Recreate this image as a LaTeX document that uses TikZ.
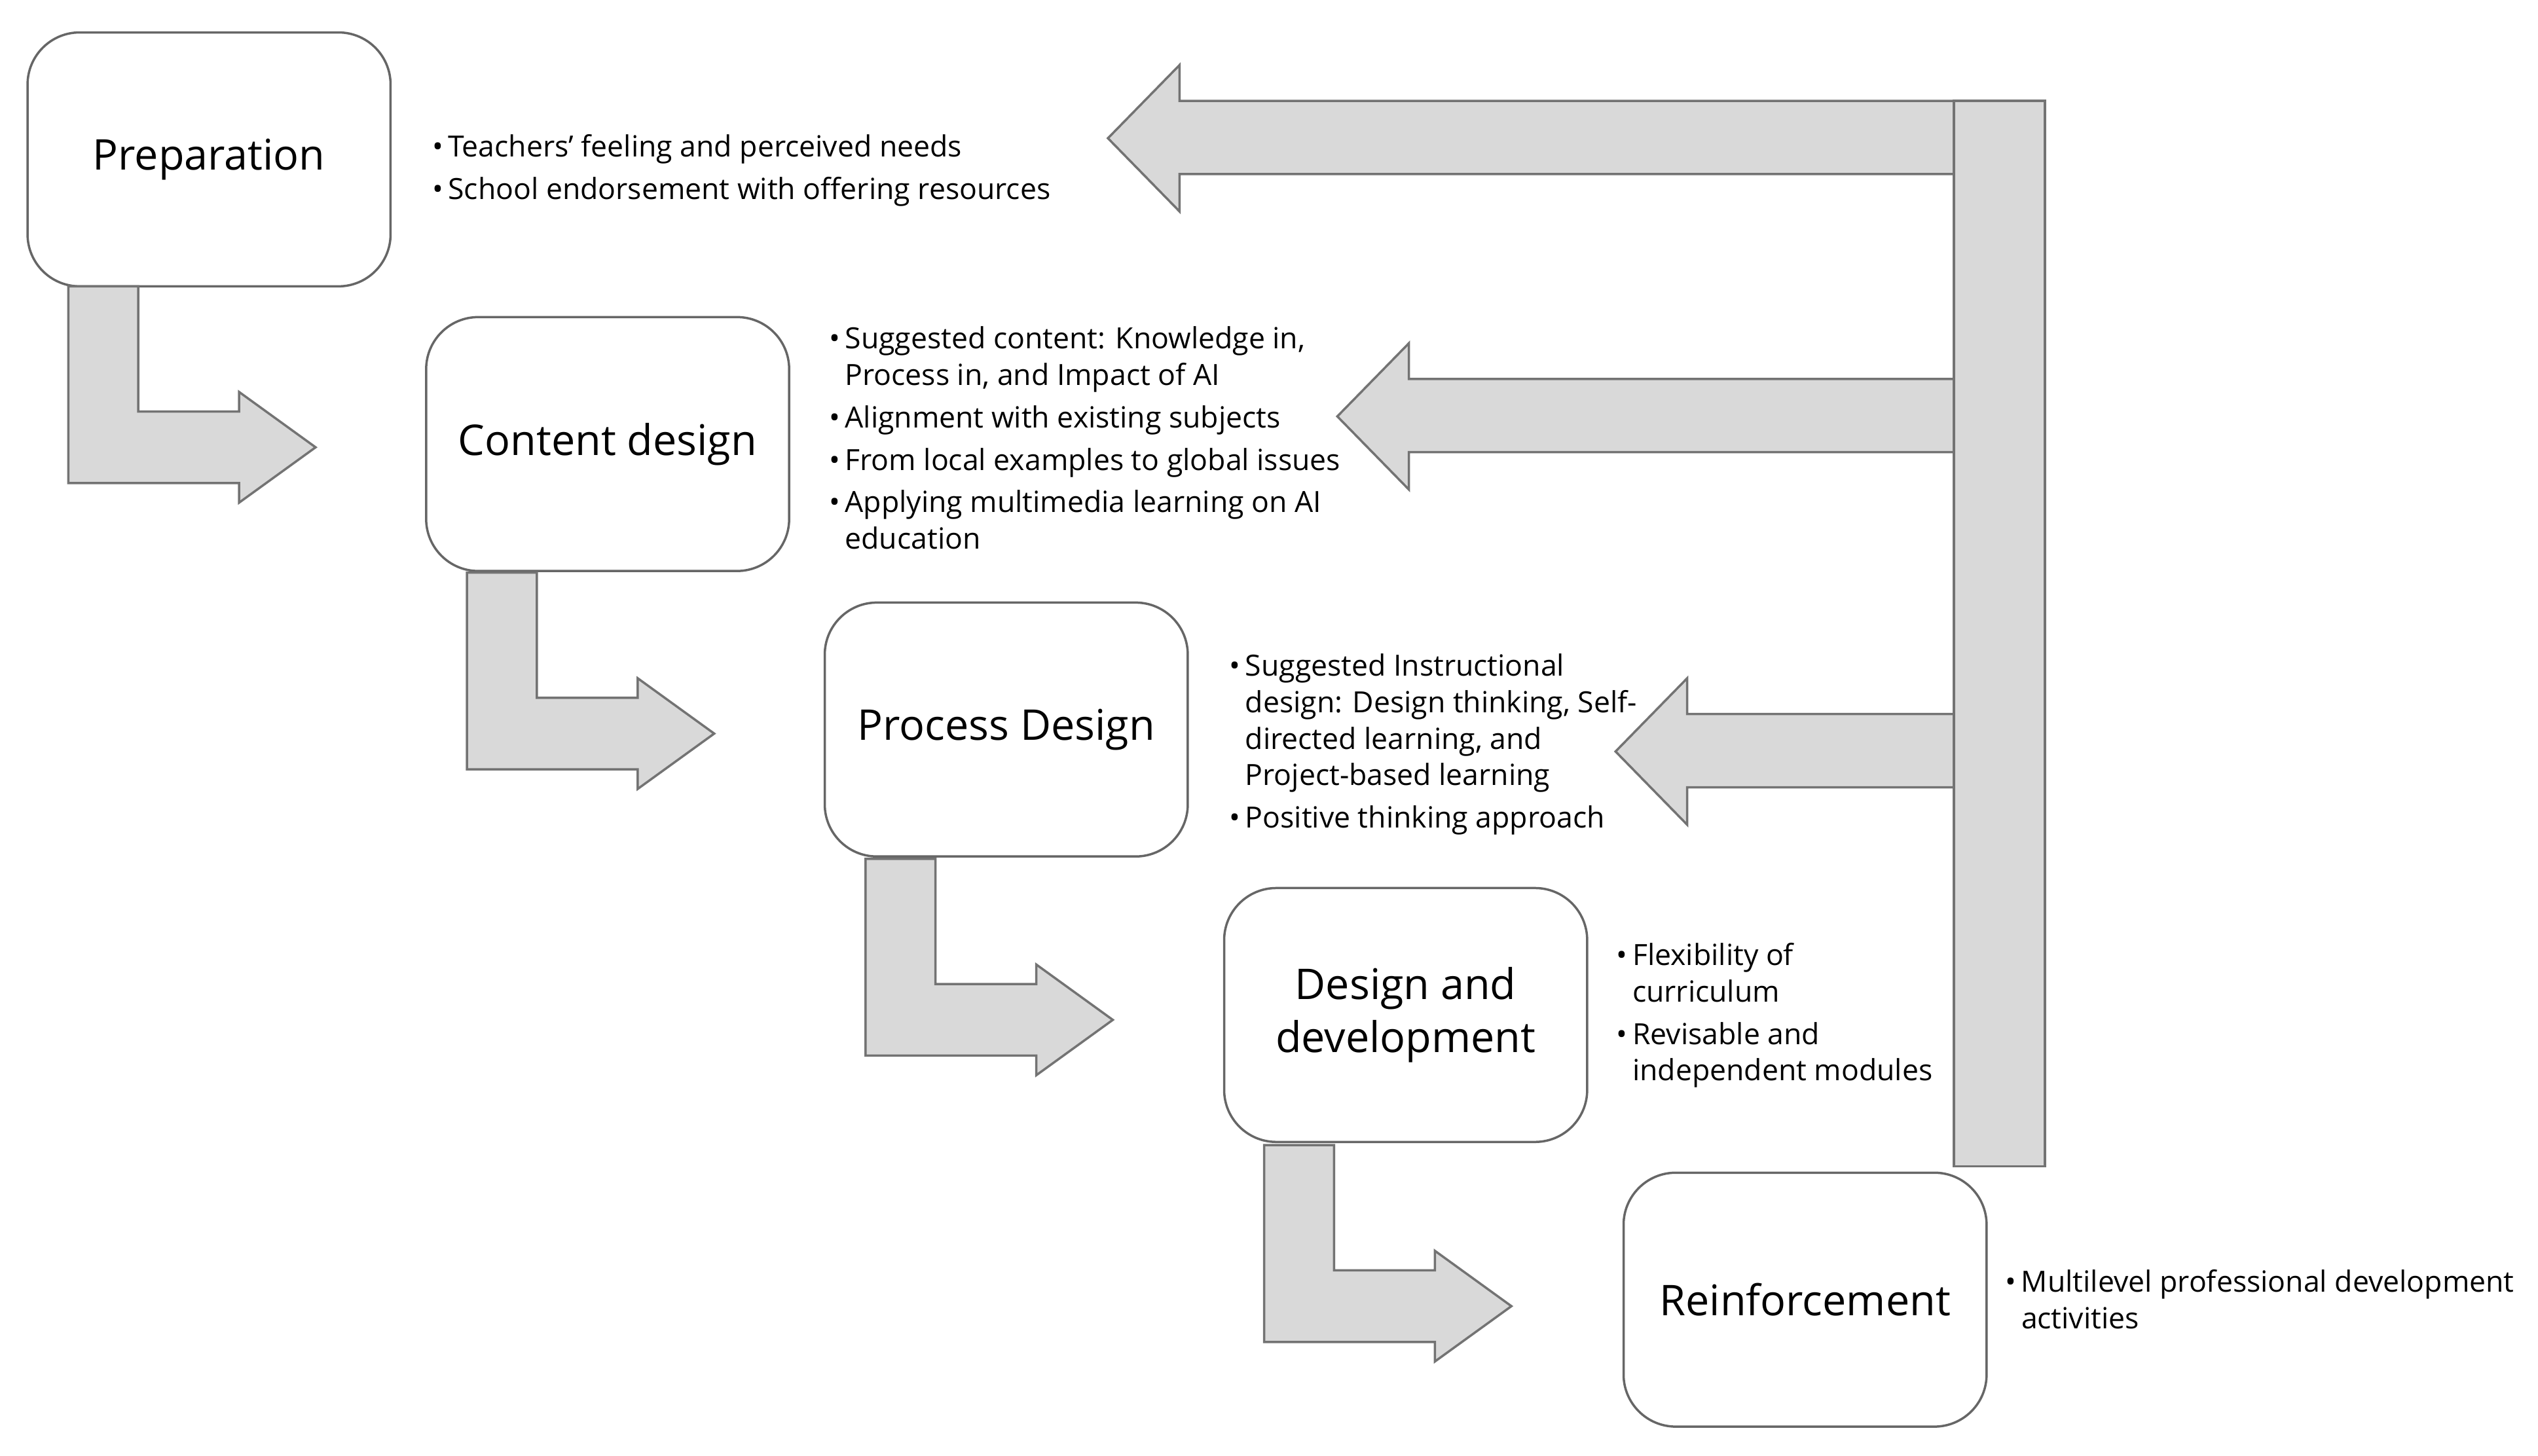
\documentclass[tikz,border=0pt]{standalone}
\usepackage{fontspec}
\setmainfont{Open Sans}
\tikzset{
  stage/.style={draw=black!60, rounded corners=0.32cm, minimum width=2.23cm,
    minimum height=1.56cm, align=center, font=\fontsize{7.4}{9.3}\selectfont, inner sep=0pt},
  notes/.style={anchor=north west, align=left, inner sep=0pt,
    font=\fontsize{5.1}{6.4}\selectfont},
  flow/.style={draw=black!55, fill=black!15, line width=0.4pt}
}
\newcommand{\itm}[1]{\textbullet & #1}
\begin{document}
\begin{tikzpicture}[x=0.01cm, y=-0.01cm]
	\useasboundingbox (0,0) rectangle (1560,895);
	% stage boxes
	\node[stage] (prep) at (128.5,98) {Preparation};
	\node[stage] (cont) at (373.5,273) {Content design};
	\node[stage] (proc) at (618.5,448.5) {Process Design};
	\node[stage] (devel) at (864,624) {Design and\\development};
	\node[stage] (reinf) at (1109.5,799) {Reinforcement};
	% bent arrows between stages
	\foreach \i in {0,...,3}
	\draw[flow, shift={(245*\i,176*\i)}] (42,176) -- (85,176) -- (85,253)
	-- (147,253) -- (147,241) -- (194,275) -- (147,309) -- (147,297)
	-- (42,297) -- cycle;
	% feedback arrows
	\foreach \tip/\mid in {681/85, 822/256, 993/462}
	\draw[flow] (\tip,\mid) -- (\tip+44,\mid-45) -- (\tip+44,\mid-23)
	-- (1201,\mid-23) -- (1201,\mid+22) -- (\tip+44,\mid+22)
	-- (\tip+44,\mid+45) -- cycle;
	\draw[flow] (1201,62) rectangle (1257,717);
	% notes
	\node[notes] (nprep) at (265,80) {\begin{tabular}{@{}l@{\,}l@{}}
	\itm{Teachers’ feeling and perceived needs}\\[1pt]
	\itm{School endorsement with offering resources}
	\end{tabular}};
	\node[notes] (ncont) at (509,198) {\begin{tabular}{@{}l@{\,}l@{}}
	\itm{Suggested content: Knowledge in,}\\
	& Process in, and Impact of AI\\[1pt]
	\itm{Alignment with existing subjects}\\[1pt]
	\itm{From local examples to global issues}\\[1pt]
	\itm{Applying multimedia learning on AI}\\
	& education
	\end{tabular}};
	\node[notes] (nproc) at (755,399) {\begin{tabular}{@{}l@{\,}l@{}}
	\itm{Suggested Instructional}\\
	& design: Design thinking, Self-\\
	& directed learning, and\\
	& Project-based learning\\[1pt]
	\itm{Positive thinking approach}
	\end{tabular}};
	\node[notes] (ndevel) at (993,577) {\begin{tabular}{@{}l@{\,}l@{}}
	\itm{Flexibility of}\\
	& curriculum\\[1pt]
	\itm{Revisable and}\\
	& independent modules
	\end{tabular}};
	\node[notes] (nreinf) at (1232,778) {\begin{tabular}{@{}l@{\,}l@{}}
	\itm{Multilevel professional development}\\
	& activities
	\end{tabular}};
\end{tikzpicture}
\end{document}
